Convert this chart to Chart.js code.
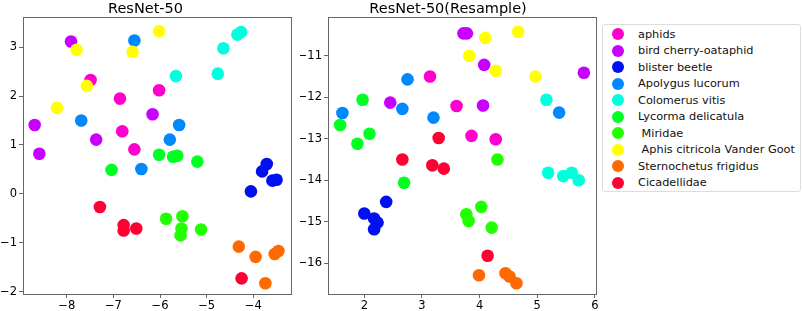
<!DOCTYPE html>
<html lang="en">
<head>
  <meta charset="UTF-8">
  <title>ResNet-50 vs ResNet-50(Resample)</title>
  <script src="https://cdn.jsdelivr.net/npm/chart.js"></script>
  <style>
    body {
      margin: 0;
      background: #fff;
      font-family: "DejaVu Sans", sans-serif;
    }
    .wrap {
      position: relative;
      width: 803px;
      height: 311px;
    }
    #leftCanvas { position: absolute; left: 0; top: 0; }
    #rightCanvas { position: absolute; left: 300px; top: 0; }
    .legend-box {
      position: absolute;
      left: 602px;
      top: 24px;
      width: 199px;
      height: 168px;
      border: 1px solid #ddd;
      border-radius: 3px;
      background: #fff;
      box-sizing: border-box;
      padding-top: 1px;
    }
    .legend-row {
      height: 16.5px;
      display: flex;
      align-items: center;
      font-size: 11.3px;
      color: #111;
      white-space: pre;
    }
    .legend-dot {
      width: 12px;
      height: 12px;
      border-radius: 50%;
      margin-left: 9px;
      margin-right: 14px;
      flex: none;
    }
  </style>
</head>
<body>
  <div class="wrap">
    <canvas id="leftCanvas" width="300" height="311"></canvas>
    <canvas id="rightCanvas" width="303" height="311"></canvas>
    <div class="legend-box" id="legend"></div>
  </div>

  <script>
    // legend entries (leading spaces are in the original legend)
    const classNames = ["aphids", "bird cherry-oataphid", "blister beetle", "Apolygus lucorum", "Colomerus vitis",
      "Lycorma delicatula", " Miridae", " Aphis citricola Vander Goot", "Sternochetus frigidus", "Cicadellidae"];
    const classColors = ["#ff00cc", "#c800ff", "#0010f0", "#0088ff", "#00ffdd",
      "#00ff22", "#22ff00", "#ffff00", "#ff6a00", "#ff0033"];

    // ResNet-50 embedding, [x, y] per class
    const aphidsA = [[-7.49, 2.33], [-6.86, 1.95], [-6.02, 2.12], [-6.81, 1.28], [-6.55, 0.91]];
    const birdA = [[-7.91, 3.12], [-8.69, 1.41], [-7.37, 1.11], [-6.16, 1.63], [-8.59, 0.82]];
    const blisterA = [[-3.71, 0.61], [-3.81, 0.46], [-3.59, 0.27], [-3.5, 0.29], [-4.05, 0.05]];
    const apolygusA = [[-6.55, 3.14], [-7.69, 1.5], [-5.59, 1.41], [-5.79, 1.11], [-6.4, 0.51]];
    const colomerusA = [[-4.26, 3.31], [-4.34, 3.26], [-4.64, 2.98], [-5.66, 2.41], [-4.76, 2.46]];
    const lycormaA = [[-6.02, 0.8], [-5.72, 0.76], [-5.63, 0.78], [-5.2, 0.66], [-7.04, 0.49]];
    const miridaeA = [[-5.87, -0.51], [-5.52, -0.46], [-5.54, -0.71], [-5.56, -0.85], [-5.12, -0.73]];
    const aphisA = [[-6.02, 3.33], [-7.79, 2.95], [-6.59, 2.91], [-7.57, 2.21], [-8.21, 1.76]];
    const sternoA = [[-4.31, -1.08], [-3.95, -1.29], [-3.54, -1.23], [-3.46, -1.17], [-3.74, -1.83]];
    const cicadA = [[-7.29, -0.27], [-6.78, -0.64], [-6.78, -0.75], [-6.51, -0.71], [-4.25, -1.73]];

    // ResNet-50(Resample) embedding
    const aphidsB = [[3.14, -11.5], [3.6, -12.21], [3.86, -12.93], [4.28, -13.01]];
    const birdB = [[3.72, -10.46], [3.78, -10.46], [4.08, -11.22], [4.06, -12.2], [2.45, -12.13], [5.81, -11.41]];
    const blisterB = [[2.0, -14.8], [2.17, -14.92], [2.23, -15.02], [2.17, -15.18], [2.38, -14.52]];
    const apolygusB = [[1.62, -12.38], [2.75, -11.57], [2.66, -12.28], [3.2, -12.49], [5.38, -12.37]];
    const colomerusB = [[5.16, -12.06], [5.19, -13.82], [5.45, -13.9], [5.6, -13.82], [5.72, -14.0]];
    const lycormaB = [[1.97, -12.06], [1.58, -12.67], [2.09, -12.88], [1.88, -13.12], [2.69, -14.06]];
    const miridaeB = [[4.31, -13.5], [3.77, -14.82], [3.81, -14.98], [4.03, -14.64], [4.21, -15.14]];
    const aphisB = [[4.1, -10.57], [4.67, -10.42], [3.82, -11.0], [4.28, -11.36], [4.97, -11.5]];
    const sternoB = [[3.99, -16.29], [4.45, -16.24], [4.52, -16.32], [4.64, -16.48]];
    const cicadB = [[2.66, -13.5], [3.18, -13.64], [3.38, -13.72], [4.14, -15.82], [3.29, -12.98]];

    const leftGroups = [aphidsA, birdA, blisterA, apolygusA, colomerusA, lycormaA, miridaeA, aphisA, sternoA, cicadA];
    const rightGroups = [aphidsB, birdB, blisterB, apolygusB, colomerusB, lycormaB, miridaeB, aphisB, sternoB, cicadB];

    const frameColor = "#666";

    function minusSign(v) {
      return String(v).replace("-", "\u2212");
    }

    // empty axis used only to draw the top / right spine
    function spineAxis(pos) {
      return {
        type: "linear",
        position: pos,
        display: true,
        afterFit: s => { if (pos === "top") s.height = 0; else s.width = 0; },
        border: { display: true, color: frameColor, width: 1 },
        grid: { display: false },
        ticks: { display: false }
      };
    }

    function makeChart(canvasId, title, groups, xr, yr, yWidth, padRight) {
      const datasets = groups.map((g, i) => ({
        label: classNames[i],
        data: g.map(p => ({ x: p[0], y: p[1] })),
        backgroundColor: classColors[i],
        borderWidth: 0,
        pointRadius: 6.3,
        order: groups.length - i
      }));

      return new Chart(document.getElementById(canvasId), {
        type: "scatter",
        data: { datasets: datasets },
        options: {
          responsive: false,
          animation: false,
          devicePixelRatio: 1,
          layout: { padding: { left: 0, right: padRight, top: 0, bottom: 0 } },
          plugins: {
            legend: { display: false },
            tooltip: { enabled: false },
            title: {
              display: true,
              text: title,
              color: "#000",
              font: { family: "DejaVu Sans", size: 14.5, weight: "normal", lineHeight: 1.24 },
              padding: 0
            }
          },
          scales: {
            x: {
              type: "linear",
              min: xr[0],
              max: xr[1],
              afterFit: s => { s.height = 17; },
              border: { color: frameColor },
              grid: { drawOnChartArea: false, color: frameColor, tickLength: 4 },
              ticks: {
                stepSize: 1,
                includeBounds: false,
                color: "#000",
                padding: 1,
                maxRotation: 0,
                font: { family: "DejaVu Sans", size: 11.5 },
                callback: v => minusSign(v)
              }
            },
            y: {
              type: "linear",
              min: yr[0],
              max: yr[1],
              afterFit: s => { s.width = yWidth; },
              border: { color: frameColor },
              grid: { drawOnChartArea: false, color: frameColor, tickLength: 4 },
              ticks: {
                stepSize: 1,
                includeBounds: false,
                color: "#000",
                padding: 2,
                font: { family: "DejaVu Sans", size: 11.5 },
                callback: v => minusSign(v)
              }
            },
            xTop: spineAxis("top"),
            yRight: spineAxis("right")
          }
        }
      });
    }

    makeChart("leftCanvas", "ResNet-50", leftGroups, [-8.94, -3.19], [-2.05, 3.6], 23, 9);
    makeChart("rightCanvas", "ResNet-50(Resample)", rightGroups, [1.37, 6.02], [-16.74, -10.09], 28, 7);

    // legend box
    const legendEl = document.getElementById("legend");
    classNames.forEach((name, i) => {
      const row = document.createElement("div");
      row.className = "legend-row";
      const dot = document.createElement("span");
      dot.className = "legend-dot";
      dot.style.background = classColors[i];
      const txt = document.createElement("span");
      txt.textContent = name;
      row.appendChild(dot);
      row.appendChild(txt);
      legendEl.appendChild(row);
    });
  </script>
</body>
</html>
